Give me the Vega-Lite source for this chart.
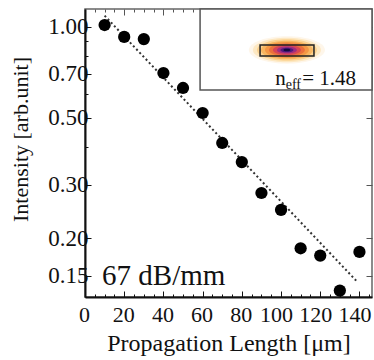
{
  "$schema": "https://vega.github.io/schema/vega-lite/v6.json",
  "width": 287,
  "height": 288,
  "autosize": {"type": "none"},
  "padding": {"left": 85, "top": 9, "right": 2, "bottom": 63},
  "background": "white",
  "config": {
    "view": {"stroke": "#666", "strokeWidth": 1.5},
    "font": "Liberation Serif",
    "axis": {"labelFont": "Liberation Serif", "titleFont": "Liberation Serif", "labelColor": "#111", "titleColor": "#111", "grid": false, "labelOverlap": false, "labelFlush": false}
  },
  "datasets": {
    "pts": [
      {"length": 10, "intensity": 1.015},
      {"length": 20, "intensity": 0.927},
      {"length": 30, "intensity": 0.912},
      {"length": 40, "intensity": 0.704},
      {"length": 50, "intensity": 0.628},
      {"length": 60, "intensity": 0.519},
      {"length": 70, "intensity": 0.413},
      {"length": 80, "intensity": 0.357},
      {"length": 90, "intensity": 0.282},
      {"length": 100, "intensity": 0.248},
      {"length": 110, "intensity": 0.185},
      {"length": 120, "intensity": 0.175},
      {"length": 130, "intensity": 0.134},
      {"length": 140, "intensity": 0.18}
    ],
    "fit": [
      {"length": 10, "intensity": 1.09},
      {"length": 139, "intensity": 0.143}
    ],
    "mode": [{"length": 103, "intensity": 0.839}],
    "one": [{"id": 1}]
  },
  "resolve": {"axis": {"x": "independent", "y": "independent"}},
  "layer": [
    {
      "data": {"name": "fit"},
      "mark": {"type": "line", "color": "#333", "strokeWidth": 2, "strokeDash": [2, 2.6]},
      "encoding": {
        "x": {"field": "length", "type": "quantitative",
          "scale": {"domain": [0, 146.4], "nice": false, "zero": false},
          "axis": {"orient": "top", "labels": false, "title": null, "domain": false,
            "values": [0,5,10,15,20,25,30,35,40,45,50,55,60,65,70,75,80,85,90,95,100,105,110,115,120,125,130,135,140,145],
            "tickColor": "#555", "tickSize": {"condition": {"test": "datum.value % 20 === 0", "value": -6}, "value": -3}}},
        "y": {"field": "intensity", "type": "quantitative",
          "scale": {"type": "log", "domain": [0.1276, 1.147], "nice": false},
          "axis": {"orient": "right", "labels": false, "title": null, "domain": false,
            "values": [0.15, 0.2, 0.3, 0.5, 0.7, 1.0], "tickColor": "#555", "tickSize": -6}}
      }
    },
    {
      "data": {"name": "pts"},
      "mark": {"type": "point", "filled": true, "color": "black", "size": 150, "opacity": 1},
      "encoding": {
        "x": {"field": "length", "type": "quantitative",
          "axis": {"orient": "bottom", "title": "Propagation Length [μm]", "titleFontSize": 24, "titleFontWeight": "normal", "titlePadding": 3,
            "values": [0,5,10,15,20,25,30,35,40,45,50,55,60,65,70,75,80,85,90,95,100,105,110,115,120,125,130,135,140,145],
            "labelExpr": "datum.value % 20 === 0 ? datum.label : ''", "format": "d",
            "labelFontSize": 22, "labelPadding": 13,
            "labelOffset": {"condition": {"test": "datum.value >= 100", "value": -5}, "value": -1},
            "domainColor": "#111", "domainWidth": 2, "tickColor": "#111",
            "tickSize": {"condition": {"test": "datum.value % 20 === 0", "value": -6}, "value": -3}}},
        "y": {"field": "intensity", "type": "quantitative",
          "axis": {"orient": "left", "title": "Intensity [arb.unit]", "titleFontSize": 22, "titleFontWeight": "normal", "titleX": -53, "titleY": 130,
            "values": [0.15, 0.2, 0.3, 0.4, 0.5, 0.6, 0.7, 0.8, 0.9, 1.0],
            "labelExpr": "indexof([0.15,0.2,0.3,0.5,0.7,1], datum.value) >= 0 ? datum.label : ''", "format": ".2f",
            "labelFontSize": 23, "labelPadding": 3,
            "domainColor": "#111", "domainWidth": 2, "tickColor": "#111",
            "tickSize": {"condition": {"test": "indexof([0.15,0.2,0.3,0.5,0.7,1], datum.value) >= 0", "value": -6}, "value": -3}}}
      }
    },
    {
      "data": {"name": "one"},
      "mark": {"type": "rect", "fill": "white", "stroke": "#555", "strokeWidth": 1.5},
      "encoding": {
        "x": {"datum": 58.7, "type": "quantitative", "axis": null},
        "x2": {"datum": 146.4},
        "y": {"datum": 0.618, "type": "quantitative", "axis": null},
        "y2": {"datum": 1.147}
      }
    },
    {
      "data": {"name": "mode"},
      "encoding": {
        "x": {"field": "length", "type": "quantitative", "axis": null},
        "y": {"field": "intensity", "type": "quantitative", "axis": null}
      },
      "layer": [
        {"mark": {"type": "point", "shape": "M -1 0 A 1 0.36 0 1 0 1 0 A 1 0.36 0 1 0 -1 0 Z", "filled": true, "opacity": 1, "strokeWidth": 0, "size": 5776, "color": "#fef6ea"}},
        {"mark": {"type": "point", "shape": "M -1 0 A 1 0.36 0 1 0 1 0 A 1 0.36 0 1 0 -1 0 Z", "filled": true, "opacity": 1, "strokeWidth": 0, "size": 4624, "color": "#fde8c2"}},
        {"mark": {"type": "point", "shape": "M -1 0 A 1 0.36 0 1 0 1 0 A 1 0.36 0 1 0 -1 0 Z", "filled": true, "opacity": 1, "strokeWidth": 0, "size": 3600, "color": "#fbd290"}},
        {"mark": {"type": "point", "shape": "M -1 0 A 1 0.36 0 1 0 1 0 A 1 0.36 0 1 0 -1 0 Z", "filled": true, "opacity": 1, "strokeWidth": 0, "size": 2704, "color": "#f8b660"}},
        {"mark": {"type": "point", "shape": "M -1 0 A 1 0.36 0 1 0 1 0 A 1 0.36 0 1 0 -1 0 Z", "filled": true, "opacity": 1, "strokeWidth": 0, "size": 1936, "color": "#f49744"}},
        {"mark": {"type": "point", "shape": "M -1 0 A 1 0.36 0 1 0 1 0 A 1 0.36 0 1 0 -1 0 Z", "filled": true, "opacity": 1, "strokeWidth": 0, "size": 1296, "color": "#ec703c"}},
        {"mark": {"type": "point", "shape": "M -1 0 A 1 0.36 0 1 0 1 0 A 1 0.36 0 1 0 -1 0 Z", "filled": true, "opacity": 1, "strokeWidth": 0, "size": 784, "color": "#d84656"}},
        {"mark": {"type": "point", "shape": "M -1 0 A 1 0.36 0 1 0 1 0 A 1 0.36 0 1 0 -1 0 Z", "filled": true, "opacity": 1, "strokeWidth": 0, "size": 400, "color": "#a02e80"}},
        {"mark": {"type": "point", "shape": "M -1 0 A 1 0.36 0 1 0 1 0 A 1 0.36 0 1 0 -1 0 Z", "filled": true, "opacity": 1, "strokeWidth": 0, "size": 169, "color": "#4e1a7c"}},
        {"mark": {"type": "point", "shape": "M -1 0 A 1 0.36 0 1 0 1 0 A 1 0.36 0 1 0 -1 0 Z", "filled": true, "opacity": 1, "strokeWidth": 0, "size": 49, "color": "#120840"}}
      ]
    },
    {
      "data": {"name": "one"},
      "mark": {"type": "rect", "fillOpacity": 0, "stroke": "#222", "strokeWidth": 1.5},
      "encoding": {
        "x": {"datum": 89.3, "type": "quantitative", "axis": null},
        "x2": {"datum": 116.8},
        "y": {"datum": 0.801, "type": "quantitative", "axis": null},
        "y2": {"datum": 0.872}
      }
    },
    {
      "data": {"name": "one"},
      "mark": {"type": "text", "text": "n", "fontSize": 21, "align": "left", "baseline": "alphabetic", "color": "#111", "font": "Liberation Serif"},
      "encoding": {
        "x": {"datum": 97, "type": "quantitative", "axis": null},
        "y": {"datum": 0.642, "type": "quantitative", "axis": null}
      }
    },
    {
      "data": {"name": "one"},
      "mark": {"type": "text", "text": "eff", "fontSize": 14, "align": "left", "baseline": "alphabetic", "color": "#111", "font": "Liberation Serif"},
      "encoding": {
        "x": {"datum": 102.4, "type": "quantitative", "axis": null},
        "y": {"datum": 0.621, "type": "quantitative", "axis": null}
      }
    },
    {
      "data": {"name": "one"},
      "mark": {"type": "text", "text": "= 1.48", "fontSize": 21, "align": "left", "baseline": "alphabetic", "color": "#111", "font": "Liberation Serif"},
      "encoding": {
        "x": {"datum": 110.8, "type": "quantitative", "axis": null},
        "y": {"datum": 0.642, "type": "quantitative", "axis": null}
      }
    },
    {
      "data": {"name": "one"},
      "mark": {"type": "text", "text": "67 dB/mm", "fontSize": 29, "align": "left", "baseline": "alphabetic", "color": "#111", "font": "Liberation Serif"},
      "encoding": {
        "x": {"datum": 8.7, "type": "quantitative", "axis": null},
        "y": {"datum": 0.140, "type": "quantitative", "axis": null}
      }
    }
  ]
}
